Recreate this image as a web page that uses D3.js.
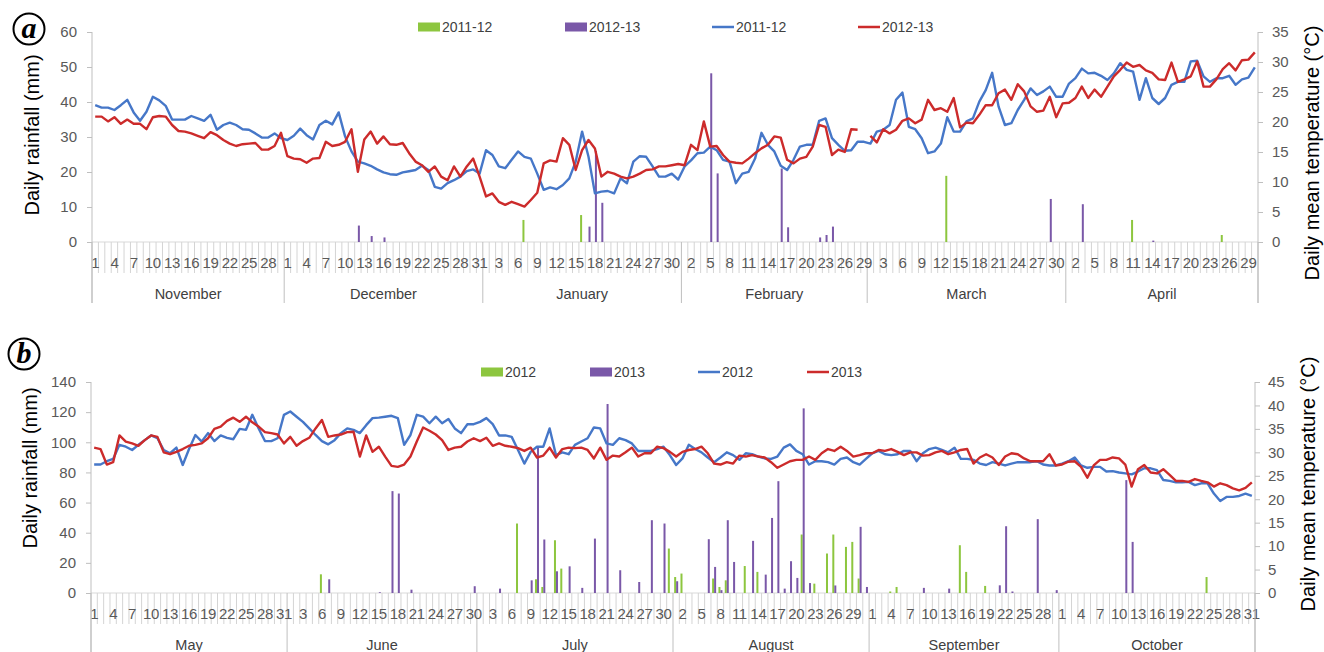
<!DOCTYPE html>
<html>
<head>
<meta charset="utf-8">
<script src="https://cdn.jsdelivr.net/npm/d3@7"></script>
<style>
  body { margin: 0; background: #fff; }
  svg text { font-family: "Liberation Sans", Arial, sans-serif; }
</style>
</head>
<body>
<script>
// ---- panel a : November 2011/12 -> April 2012/13 ----
var monthsA = ["November", "December", "January", "February", "March", "April"];
var lengthsA = [30, 31, 31, 29, 31, 30];

// daily mean temperature, 2011-12 (blue)
var tempA1 = [
  22.8,22.4,22.4,22.0,22.8,23.7,21.6,20.2,21.7,24.2,23.6,22.7,20.4,20.4,20.4,21.0,20.6,20.2,21.2,18.7,19.5,19.9,19.5,18.8,18.7,18.1,17.4,17.4,18.1,17.3,
  17.0,17.7,18.9,17.8,17.1,19.5,20.2,19.6,21.6,17.6,15.1,13.4,13.1,12.7,12.1,11.6,11.3,11.2,11.6,11.8,12.0,12.7,12.0,9.2,8.9,9.8,10.3,10.9,11.8,12.1,11.4,
  15.3,14.5,12.6,12.3,13.7,15.1,14.2,13.9,11.4,8.7,9.1,8.8,9.5,10.6,13.4,18.4,14.2,8.1,8.4,8.5,8.1,10.6,9.8,13.4,14.3,14.2,12.6,10.9,10.9,11.4,10.4,
  12.6,13.6,14.8,14.9,15.9,15.3,13.7,13.4,9.8,11.4,11.7,13.9,18.2,16.2,15.1,12.7,12.0,13.7,15.9,16.2,16.2,20.2,20.6,17.3,16.2,15.2,15.3,16.7,16.7,
  16.4,18.4,18.7,19.5,23.7,24.9,19.2,18.8,17.3,14.8,15.1,16.4,20.8,18.4,18.4,20.1,20.6,23.4,25.3,28.2,22.6,19.5,19.8,22.0,23.7,25.6,24.5,25.1,25.9,24.2,24.2,
  26.4,27.3,28.9,28.1,28.2,27.7,27.0,28.1,29.8,28.7,28.4,23.7,27.3,24.0,23.0,24.0,26.2,26.7,26.7,30.1,30.2,27.6,26.7,27.3,27.3,27.7,26.2,27.1,27.4,29.1
];
// daily mean temperature, 2012-13 (red), no 29 February
var tempA2 = [
  20.9,20.9,20.1,20.8,19.7,20.4,19.7,19.7,18.8,20.8,21.0,20.9,19.5,18.5,18.4,18.1,17.7,17.3,18.3,17.8,17.0,16.4,16.0,16.3,16.4,16.5,15.4,15.4,16.0,18.2,
  14.3,13.9,13.8,13.2,13.9,14.0,16.7,16.0,16.2,16.7,18.8,11.7,17.1,18.4,16.4,17.6,16.3,16.2,16.5,14.8,13.4,12.8,11.7,12.6,10.9,10.3,12.6,10.9,12.6,13.9,10.9,
  7.6,8.1,6.7,6.2,6.7,6.3,5.9,7.0,8.2,13.1,13.6,13.4,17.3,16.2,12.0,15.3,17.0,15.6,10.9,11.7,11.4,10.9,10.6,10.9,11.4,12.0,12.1,12.6,12.6,12.8,13.0,
  12.8,16.2,15.3,20.1,15.9,16.0,14.5,13.4,13.2,13.1,13.9,14.8,15.6,16.2,17.6,17.4,13.7,13.1,13.9,14.2,15.9,19.5,19.2,14.5,15.4,15.0,18.8,18.7,null,
  17.7,16.6,18.8,18.1,18.7,20.2,20.6,19.8,20.4,23.7,22.0,22.3,21.7,24.0,19.1,19.9,19.8,21.2,22.8,22.8,24.8,25.4,23.7,26.3,25.1,22.6,21.7,21.9,24.2,20.8,23.1,
  23.2,24.0,25.9,24.0,25.4,24.2,25.9,27.6,28.7,29.9,29.2,29.5,28.6,28.2,27.1,27.0,29.9,26.7,27.1,27.6,30.1,25.9,25.9,27.1,28.8,29.8,28.6,30.3,30.4,31.6
];
// daily rainfall (mm): [month, day, mm]
var rainA1 = [["January",7,6.3],["January",16,7.7],["March",13,18.9],["April",11,6.3],["April",25,2.0]];
var rainA2 = [["December",12,4.7],["December",14,1.7],["December",16,1.3],["January",17,4.4],["January",18,26],
  ["January",19,11.2],["February",5,48.2],["February",6,19.6],["February",16,21],["February",17,4.2],
  ["February",22,1.3],["February",23,2.0],["February",24,4.4],["March",29,12.3],["April",3,10.8],["April",14,0.4]];

// ---- panel b : May -> October 2012/2013 ----
var monthsB = ["May", "June", "July", "August", "September", "October"];
var lengthsB = [31, 30, 31, 31, 30, 31];

var tempB1 = [
  27.4,27.4,28.1,28.6,31.6,31.2,30.5,31.6,32.6,33.6,33.0,30.5,29.8,31.0,27.3,30.7,33.7,32.3,34.1,32.4,33.6,33.1,32.8,35.0,34.8,38.0,35.1,32.4,32.4,33.0,38.0,
  38.7,37.6,36.5,35.1,33.7,32.4,31.7,32.6,34.1,35.1,34.8,34.1,35.8,37.3,37.4,37.6,37.8,37.3,31.6,33.7,38.0,37.6,36.2,37.6,36.2,37.1,35.1,34.1,36.0,36.0,
  36.5,37.3,36.0,33.6,33.6,33.3,30.5,27.6,30.1,31.2,31.2,35.1,29.4,30.0,29.6,31.6,32.3,33.0,35.3,35.1,31.9,31.6,33.0,32.6,31.9,30.3,30.3,30.3,30.7,31.2,29.4,
  27.3,28.7,31.6,30.7,30.0,28.9,27.9,28.9,30.0,29.4,28.4,29.8,29.6,29.1,28.7,28.6,29.1,31.0,31.7,30.3,29.6,27.4,28.1,28.1,27.9,27.4,28.6,28.9,27.9,27.4,28.6,
  29.8,30.3,29.6,29.4,29.6,30.3,30.3,28.1,29.8,30.7,31.0,30.5,30.0,31.0,28.6,28.6,28.4,27.6,27.3,27.9,27.6,27.2,27.6,27.9,27.9,27.9,28.1,27.4,27.2,27.2,
  27.6,28.1,28.9,27.2,26.7,26.9,26.9,25.9,26.0,25.7,25.5,25.3,25.9,26.6,26.6,26.2,24.1,23.9,23.6,23.6,23.7,23.0,23.4,23.4,21.2,19.6,20.5,20.5,20.7,21.2,20.7
];
var tempB2 = [
  31.0,30.7,27.4,27.9,33.6,32.3,31.9,31.4,32.6,33.6,33.3,30.0,29.6,30.1,30.7,31.4,31.6,31.9,33.0,35.0,35.5,36.7,37.4,36.5,37.6,36.4,35.5,34.3,34.1,33.8,31.9,
  33.3,31.4,32.4,33.1,35.1,36.9,33.3,33.6,33.8,34.3,34.4,29.1,33.6,30.1,31.2,29.1,27.1,26.9,27.4,29.1,32.3,35.3,34.6,33.8,32.6,30.5,31.0,31.2,32.3,33.0,
  32.4,33.1,31.4,31.9,31.4,31.2,30.9,30.3,31.0,28.9,29.3,31.0,28.9,30.7,31.0,30.9,31.0,30.5,28.7,31.0,28.4,29.3,29.1,30.0,31.0,29.1,29.8,29.8,31.2,30.9,30.1,
  29.1,30.1,30.5,30.7,31.2,29.8,27.6,27.4,27.9,27.6,29.3,29.1,29.4,29.1,28.9,27.9,26.7,27.4,28.1,28.4,28.4,29.1,28.4,29.8,30.7,30.3,31.2,30.3,29.1,29.4,29.8,
  29.8,30.5,30.3,30.7,30.1,29.4,30.0,30.0,29.3,29.4,30.0,30.3,29.6,30.0,30.5,30.7,27.6,28.9,29.6,28.9,27.3,29.1,29.8,29.6,28.7,28.1,28.1,28.1,29.6,27.2,
  27.4,28.0,28.1,26.9,24.6,27.2,28.4,28.4,28.9,28.7,27.4,22.7,26.4,27.3,25.7,25.5,26.4,25.2,23.9,23.9,23.7,24.3,23.9,23.6,22.7,23.4,23.0,22.3,21.9,22.4,23.6
];
var rainB1 = [["June",6,12.4],["July",7,46.1],["July",10,9.1],["July",11,4],["July",13,35],["July",14,16.2],
  ["July",31,29.5],["August",1,10.6],["August",2,12.9],["August",7,9.6],["August",8,4],["August",9,8.4],
  ["August",12,17.9],["August",14,14],["August",21,38.8],["August",23,6.2],["August",25,26.2],["August",26,38.8],
  ["August",28,30.6],["August",29,33.9],["August",30,9.6],["September",4,1],["September",5,4],
  ["September",15,31.7],["September",16,14],["September",19,4.7],["October",24,10.6]];
var rainB2 = [["June",7,9.1],["June",15,0.5],["June",17,67.6],["June",18,66],["June",20,2.2],["June",30,4.5],
  ["July",4,2.9],["July",9,8.4],["July",10,97],["July",11,35.5],["July",13,14.4],["July",15,17.7],["July",17,3.4],
  ["July",19,36.1],["July",21,125.4],["July",23,15.1],["July",26,7.3],["July",28,48.3],["July",30,46.1],
  ["August",1,7.8],["August",6,35.7],["August",7,17.3],["August",8,1.9],["August",9,48.3],["August",10,20.6],
  ["August",13,34.6],["August",15,12.2],["August",16,49.8],["August",17,74.2],["August",18,2.9],["August",19,21.1],
  ["August",20,10],["August",21,122.5],["August",22,6.6],["August",26,5],["August",30,43.9],["August",31,4],
  ["September",9,3.4],["September",13,2.9],["September",21,5.1],["September",22,44.3],["September",23,1],
  ["September",27,49],["September",30,1.9],["October",11,74.9],["October",12,33.9]];

var green = "#8dc63f", purple = "#7a58a8", blue = "#4677c8", red = "#cc2b2b";

var svg = d3.select("body").append("svg")
    .attr("width", 1324)
    .attr("height", 652);

function drawPanel(p) {
  // categories: one per day
  var days = [], starts = {};
  p.months.forEach(function(m, k) {
    starts[m] = days.length;
    for (var d = 1; d <= p.lengths[k]; d++) days.push({month: m, day: d});
  });
  var n = days.length;

  var x = d3.scaleBand().domain(d3.range(n)).range([p.left, p.right]);
  var yR = d3.scaleLinear().domain([0, p.rainMax]).range([p.bottom, p.top]);
  var yT = d3.scaleLinear().domain([0, p.tempMax]).range([p.bottom, p.top]);
  var g = svg.append("g");

  // baseline
  g.append("line")
    .attr("x1", p.left).attr("x2", p.right)
    .attr("y1", p.bottom).attr("y2", p.bottom)
    .attr("stroke", "#d9d9d9");

  // day boundary ticks, longer at month boundaries
  var bounds = d3.range(n + 1);
  var monthEdges = [0];
  p.lengths.reduce(function(a, b) { monthEdges.push(a + b); return a + b; }, 0);
  g.selectAll(".dtick").data(bounds).enter().append("line")
    .attr("class", "dtick")
    .attr("x1", function(i) { return p.left + i * x.step(); })
    .attr("x2", function(i) { return p.left + i * x.step(); })
    .attr("y1", p.bottom)
    .attr("y2", function(i) { return monthEdges.indexOf(i) >= 0 ? p.monthLineEnd : p.bottom + 31; })
    .attr("stroke", function(i) { return monthEdges.indexOf(i) >= 0 ? "#bfbfbf" : "#d4d4d4"; })
    .attr("stroke-width", 1);

  // day labels every third day
  var xAxis = g.append("g")
    .attr("transform", "translate(0," + p.bottom + ")")
    .call(d3.axisBottom(x)
      .tickValues(d3.range(0, n, 3))
      .tickFormat(function(i) { return days[i].day; })
      .tickSize(0).tickPadding(15));
  xAxis.select(".domain").remove();
  xAxis.selectAll("text").attr("fill", "#595959").style("font-size", "15px").style("letter-spacing", "-0.3px");

  // month labels
  g.selectAll(".mlab").data(p.months).enter().append("text")
    .attr("x", function(m, k) { return p.left + (starts[m] + p.lengths[k] / 2) * x.step(); })
    .attr("y", p.monthY)
    .attr("text-anchor", "middle")
    .attr("fill", "#404040")
    .style("font-size", "14.5px")
    .text(function(m) { return m; });

  // left axis
  var gl = g.append("g")
    .attr("transform", "translate(" + p.left + ",0)")
    .call(d3.axisLeft(yR).tickValues(d3.range(0, p.rainMax + 1, p.rainStep)).tickSize(5).tickPadding(10));
  gl.select(".domain").remove();
  gl.selectAll("line").attr("stroke", "#bfbfbf");
  gl.selectAll("text").attr("fill", "#595959").style("font-size", "15px");

  // right axis
  var gr = g.append("g")
    .attr("transform", "translate(" + p.right + ",0)")
    .call(d3.axisRight(yT).tickValues(d3.range(0, p.tempMax + 1, 5)).tickSize(5).tickPadding(p.rightPad));
  gr.select(".domain").remove();
  gr.selectAll("line").attr("stroke", "#bfbfbf");
  gr.selectAll("text").attr("fill", "#595959").style("font-size", "15px");

  [p.left, p.right].forEach(function(xx) {
    g.append("line")
      .attr("x1", xx).attr("x2", xx)
      .attr("y1", p.top).attr("y2", p.monthLineEnd)
      .attr("stroke", "#bfbfbf");
  });

  // rainfall bars: first series left of centre, second right
  function bars(list, color, shift) {
    var rows = list.map(function(r) { return {i: starts[r[0]] + r[1] - 1, v: r[2]}; });
    g.selectAll(null).data(rows).enter().append("rect")
      .attr("x", function(d) { return x(d.i) + x.bandwidth() / 2 + shift; })
      .attr("width", 2)
      .attr("y", function(d) { return yR(d.v); })
      .attr("height", function(d) { return p.bottom - yR(d.v); })
      .attr("fill", color);
  }
  bars(p.rain1, green, -2);
  bars(p.rain2, purple, 0);

  // temperature lines
  var line = d3.line()
    .defined(function(d) { return d != null; })
    .x(function(d, i) { return x(i) + x.bandwidth() / 2; })
    .y(function(d) { return yT(d); });
  g.append("path").datum(p.temp1)
    .attr("d", line).attr("fill", "none")
    .attr("stroke", blue).attr("stroke-width", 2.4).attr("stroke-linejoin", "round");
  g.append("path").datum(p.temp2)
    .attr("d", line).attr("fill", "none")
    .attr("stroke", red).attr("stroke-width", 2.4).attr("stroke-linejoin", "round");

  // legend
  var lg = g.append("g");
  p.legend.forEach(function(it) {
    if (it.type === "bar") {
      lg.append("rect").attr("x", it.x).attr("y", p.legendY - 4.5)
        .attr("width", 22).attr("height", 9).attr("fill", it.color);
    } else {
      lg.append("line").attr("x1", it.x).attr("x2", it.x + 22)
        .attr("y1", p.legendY).attr("y2", p.legendY)
        .attr("stroke", it.color).attr("stroke-width", 2.5);
    }
    lg.append("text").attr("x", it.x + 24).attr("y", p.legendY + 5)
      .attr("fill", "#404040").style("font-size", "14px").text(it.label);
  });

  // axis titles
  g.append("text")
    .attr("transform", "translate(" + p.leftTitleX + "," + p.leftTitleY + ") rotate(-90)")
    .attr("text-anchor", "middle").attr("dy", "0.35em")
    .style("font-size", "20px").attr("fill", "#000")
    .text("Daily rainfall (mm)");
  g.append("text")
    .attr("transform", "translate(" + p.rightTitleX + "," + p.rightTitleY + ") rotate(-90)")
    .attr("text-anchor", "middle").attr("dy", "0.35em")
    .style("font-size", "20px").attr("fill", "#000")
    .text("Daily mean temperature (\u00b0C)");

  // panel letter
  g.append("circle").attr("cx", p.tag[0]).attr("cy", p.tag[1]).attr("r", 15.5)
    .attr("fill", "#fff").attr("stroke", "#000").attr("stroke-width", 2);
  g.append("text").attr("x", p.tag[0]).attr("y", p.tag[1]).attr("dy", "0.3em")
    .attr("text-anchor", "middle")
    .style("font-family", "'Liberation Serif', 'DejaVu Serif', serif")
    .style("font-size", "30px").style("font-weight", "bold").style("font-style", "italic")
    .text(p.letter);
}

drawPanel({
  months: monthsA, lengths: lengthsA,
  temp1: tempA1, temp2: tempA2, rain1: rainA1, rain2: rainA2,
  left: 92, right: 1258, top: 32, bottom: 242, monthLineEnd: 303, monthY: 299,
  rainMax: 60, rainStep: 10, tempMax: 35, rightPad: 9,
  legendY: 27,
  legend: [
    {type: "bar", x: 418, color: green, label: "2011-12"},
    {type: "bar", x: 565, color: purple, label: "2012-13"},
    {type: "line", x: 712, color: blue, label: "2011-12"},
    {type: "line", x: 858, color: red, label: "2012-13"}
  ],
  leftTitleX: 32, leftTitleY: 135, rightTitleX: 1312, rightTitleY: 153,
  tag: [29, 29], letter: "a"
});

drawPanel({
  months: monthsB, lengths: lengthsB,
  temp1: tempB1, temp2: tempB2, rain1: rainB1, rain2: rainB2,
  left: 91, right: 1255, top: 382, bottom: 593, monthLineEnd: 652, monthY: 650,
  rainMax: 140, rainStep: 20, tempMax: 45, rightPad: 8,
  legendY: 372,
  legend: [
    {type: "bar", x: 481, color: green, label: "2012"},
    {type: "bar", x: 590, color: purple, label: "2013"},
    {type: "line", x: 698, color: blue, label: "2012"},
    {type: "line", x: 807, color: red, label: "2013"}
  ],
  leftTitleX: 30, leftTitleY: 468, rightTitleX: 1308, rightTitleY: 484,
  tag: [24, 354], letter: "b"
});
</script>
</body>
</html>
